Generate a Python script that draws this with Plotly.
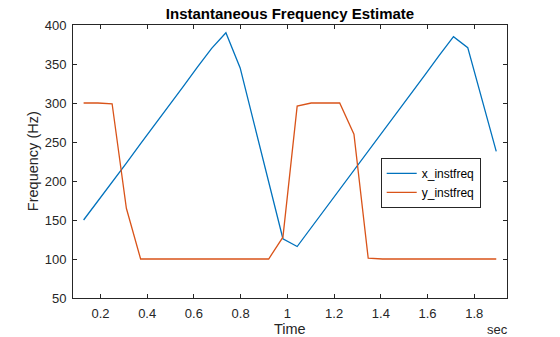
import plotly.graph_objects as go

# Time axis (sec)
time_s = [0.128, 0.189, 0.250, 0.311, 0.372, 0.433, 0.494, 0.554, 0.615, 0.676,
          0.737, 0.798, 0.859, 0.920, 0.981, 1.042, 1.102, 1.163, 1.224, 1.285,
          1.346, 1.407, 1.468, 1.529, 1.589, 1.650, 1.711, 1.772, 1.833, 1.894]

x_instfreq = [150, 174, 199, 223, 248, 272, 297, 321, 346, 370,
              390, 345, 272, 199, 126, 116, 140, 165, 189, 214,
              238, 263, 287, 312, 336, 361, 385, 371, 305, 238]

y_instfreq = [300, 300, 299, 165, 100, 100, 100, 100, 100, 100,
              100, 100, 100, 100, 128, 296, 300, 300, 300, 260,
              101, 100, 100, 100, 100, 100, 100, 100, 100, 100]

x_ticks = [0.2, 0.4, 0.6, 0.8, 1.0, 1.2, 1.4, 1.6, 1.8]
x_tick_text = ["0.2", "0.4", "0.6", "0.8", "1", "1.2", "1.4", "1.6", "1.8"]
y_ticks = [50, 100, 150, 200, 250, 300, 350, 400]

FONT = "Liberation Sans, Arial, Helvetica, sans-serif"
AX = "#262626"

fig = go.Figure()
fig.add_trace(go.Scatter(x=time_s, y=x_instfreq, mode="lines", name="x_instfreq",
                         line=dict(color="#0072BD", width=1.3)))
fig.add_trace(go.Scatter(x=time_s, y=y_instfreq, mode="lines", name="y_instfreq",
                         line=dict(color="#D95319", width=1.3)))

axis_common = dict(showline=True, linecolor=AX, linewidth=1, mirror="ticks",
                   ticks="inside", ticklen=4, tickcolor=AX, showgrid=False,
                   zeroline=False, tickfont=dict(family=FONT, size=13, color=AX))

fig.update_layout(
    width=560, height=337,
    margin=dict(l=73, r=53, t=25, b=39),
    paper_bgcolor="white", plot_bgcolor="white",
    font=dict(family=FONT, color=AX),
    showlegend=True,
    title=dict(text="<b>Instantaneous Frequency Estimate</b>",
               font=dict(family=FONT, size=15, color="black"),
               x=0.5, xanchor="center", y=1 - 13.5 / 337, yanchor="middle",
               xref="paper", yref="container"),
    xaxis=dict(range=[0.0826, 1.940], tickvals=x_ticks, ticktext=x_tick_text,
               ticklabelstandoff=3, **axis_common),
    yaxis=dict(range=[50, 400], tickvals=y_ticks, ticklabelstandoff=3,
               **axis_common),
    legend=dict(x=0.709, y=0.513, xanchor="left", yanchor="top",
                bgcolor="white", bordercolor=AX, borderwidth=1,
                font=dict(family=FONT, size=12, color="black"),
                tracegroupgap=0),
    annotations=[
        dict(text="Time", xref="paper", yref="paper", x=0.5, y=-0.114,
             xanchor="center", yanchor="middle", showarrow=False,
             font=dict(family=FONT, size=14.5, color=AX)),
        dict(text="sec", xref="paper", yref="paper", x=0.978, y=-0.114,
             xanchor="center", yanchor="middle", showarrow=False,
             font=dict(family=FONT, size=13, color=AX)),
        dict(text="Frequency (Hz)", xref="paper", yref="paper", x=-0.093, y=0.5,
             xanchor="center", yanchor="middle", showarrow=False, textangle=-90,
             font=dict(family=FONT, size=14.5, color=AX)),
    ],
)

fig.write_html("out.html")
